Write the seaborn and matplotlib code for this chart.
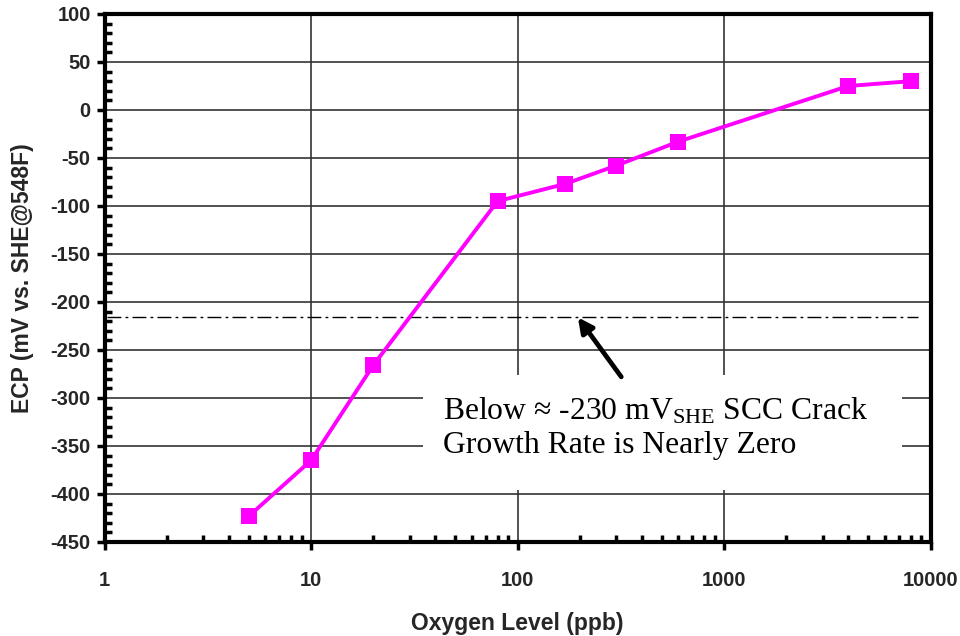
import matplotlib
matplotlib.use("Agg")
import matplotlib.pyplot as plt
import matplotlib.ticker as mticker
from matplotlib.patches import Rectangle
import numpy as np
import pandas as pd
import seaborn as sns

# ---- data ----
oxygen_ppb = [5, 10, 20, 80, 170, 300, 600, 4000, 8000]
ecp_mv = [-423, -365, -266, -95, -77, -58, -33, 25, 30]
threshold_mv = -216
x_ticks = [1, 10, 100, 1000, 10000]
x_tick_labels = ["1", "10", "100", "1000", "10000"]
y_ticks = list(range(-450, 101, 50))
y_tick_labels = [str(v) for v in y_ticks]
note_text = "Below \u2248 -230 mV$_{\\mathrm{SHE}}$ SCC Crack\nGrowth Rate is Nearly Zero"
arrow_tip = (196, threshold_mv)
arrow_tail = (318, -278)

sns.set_theme(style="white")
plt.rcParams["font.family"] = ["Liberation Sans", "DejaVu Sans"]
plt.rcParams["mathtext.fontset"] = "custom"
plt.rcParams["mathtext.rm"] = "Liberation Serif"
plt.rcParams["mathtext.it"] = "Liberation Serif:italic"
plt.rcParams["mathtext.bf"] = "Liberation Serif:bold"

df = pd.DataFrame({"oxygen": oxygen_ppb, "ecp": ecp_mv})

fig = plt.figure(figsize=(9.6, 6.36), dpi=100)
ax = fig.add_axes([0.1089, 0.1478, 0.8604, 0.8302])

ax.set_xscale("log")
ax.set_xlim(1, 10000)
ax.set_ylim(-450, 100)

# grid
ax.set_axisbelow(True)
ax.grid(True, which="major", color="#333333", linewidth=1.2)

# threshold line
ax.axhline(threshold_mv, xmin=0.003, xmax=0.985, color="black", linewidth=1.0,
           linestyle=(0, (10, 3, 2, 3)), zorder=2)

# data
sns.lineplot(data=df, x="oxygen", y="ecp", ax=ax, color="#FF00FF", linewidth=2.8,
             marker="s", markersize=11.5, markeredgewidth=0, zorder=4)

# white note box (background of the annotation)
ax.add_patch(Rectangle((0.3856, 0.0985), 0.58, 0.218, transform=ax.transAxes,
                       facecolor="white", edgecolor="none", zorder=2.5))
ax.text(0.41, 0.277, note_text, transform=ax.transAxes, ha="left", va="top",
        fontsize=22.8, family="Liberation Serif", linespacing=1.2, color="black",
        zorder=3)

ax.annotate("", xy=arrow_tip, xytext=arrow_tail, xycoords="data", textcoords="data",
            arrowprops=dict(arrowstyle="-|>", color="black", lw=3.4,
                            mutation_scale=22, shrinkA=0, shrinkB=0), zorder=5)

# ticks
ax.xaxis.set_major_locator(mticker.FixedLocator(x_ticks))
ax.xaxis.set_major_formatter(mticker.FixedFormatter(x_tick_labels))
ax.xaxis.set_minor_locator(mticker.LogLocator(base=10, subs=np.arange(2, 10)))
ax.xaxis.set_minor_formatter(mticker.NullFormatter())
ax.yaxis.set_major_locator(mticker.FixedLocator(y_ticks))
ax.yaxis.set_major_formatter(mticker.FixedFormatter(y_tick_labels))
ax.yaxis.set_minor_locator(mticker.MultipleLocator(10))

ax.tick_params(which="major", direction="out", length=6, width=2.5, color="black",
               labelsize=14.5, pad=4, bottom=True, left=True)
ax.tick_params(which="minor", direction="in", length=5, width=2.5, color="black",
               bottom=True, left=True)
for lab in ax.get_xticklabels() + ax.get_yticklabels():
    lab.set_fontweight("bold")
ax.tick_params(axis="x", which="major", pad=15)

for sp in ax.spines.values():
    sp.set_visible(True)
    sp.set_color("black")
    sp.set_linewidth(3)

ax.set_xlabel("Oxygen Level (ppb)", fontsize=16.5, fontweight="bold", labelpad=16)
ax.set_ylabel("ECP (mV vs. SHE@548F)", fontsize=16.5, fontweight="bold", labelpad=12)

fig.savefig("out.png", dpi=100, facecolor="white")
